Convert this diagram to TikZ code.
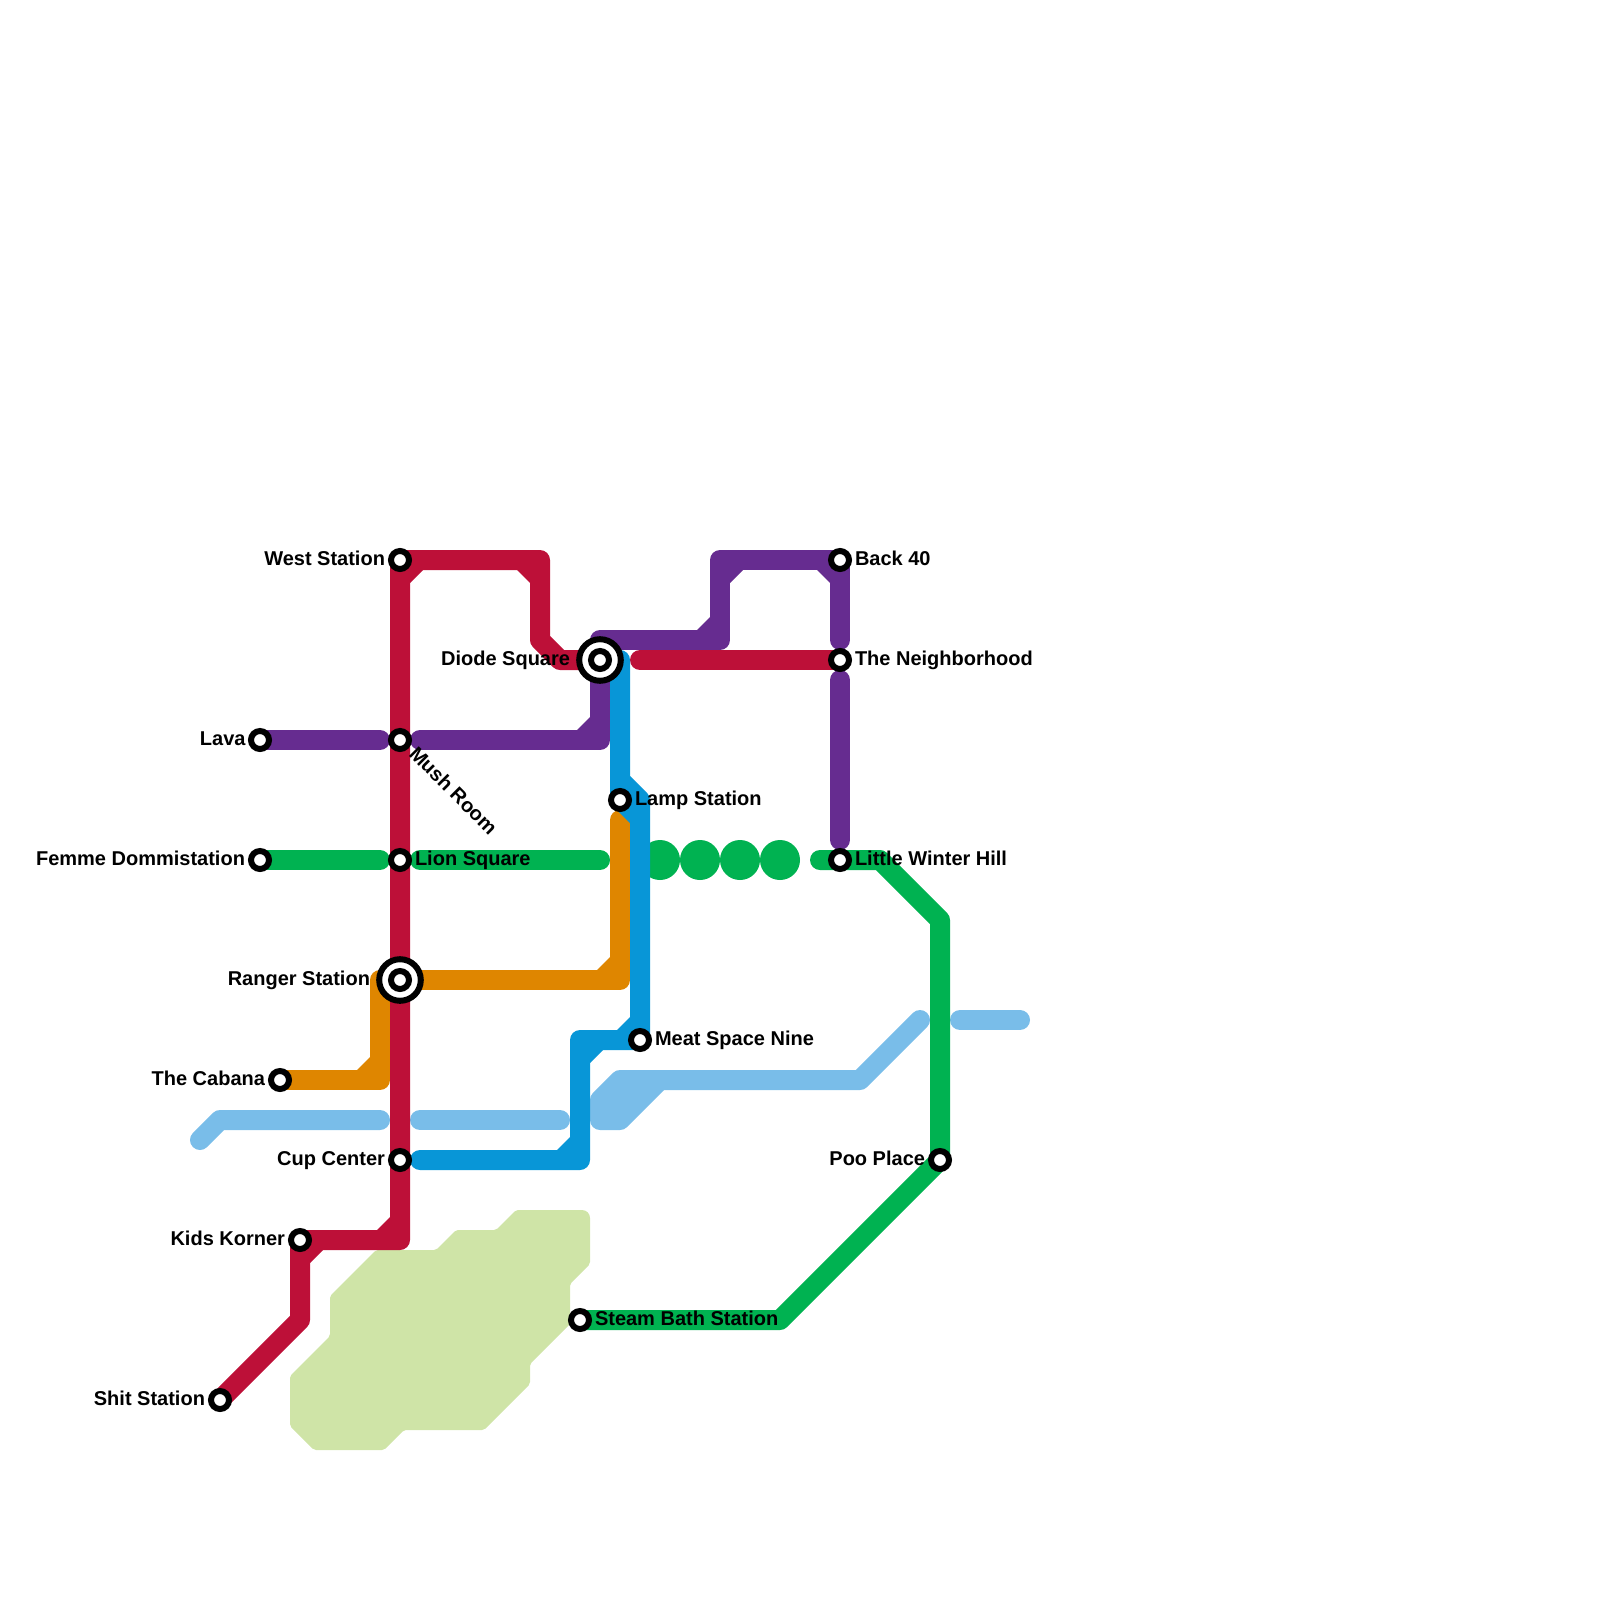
\documentclass[tikz,border=0pt]{standalone}
\usepackage{fontspec}
\setmainfont{Liberation Sans}
\pgfdeclarelayer{lines}
\pgfsetlayers{lines,main}
\definecolor{cred}{HTML}{BD1038}
\definecolor{cpurple}{HTML}{662C90}
\definecolor{cgreen}{HTML}{00B251}
\definecolor{cblue}{HTML}{0896D7}
\definecolor{corange}{HTML}{DF8600}
\definecolor{clight}{HTML}{79BDE9}
\definecolor{cpark}{HTML}{CFE4A7}
\tikzset{
  metro/.style={line width=20pt,line cap=round,line join=round},
  stationdot/.style={circle,draw=black,fill=white,line width=6pt,minimum size=18pt,inner sep=0pt,outer sep=0pt},
  stationring/.style={circle,draw=black,fill=white,line width=6pt,minimum size=41.6pt,inner sep=0pt,outer sep=0pt},
  lab/.style={font=\fontsize{20pt}{24pt}\selectfont\bfseries,inner sep=0pt,outer sep=0pt,text=black},
  lableft/.style={lab,anchor=base east},
  labright/.style={lab,anchor=base west},
  traindot/.style={circle,fill=cgreen,minimum size=40pt,inner sep=0pt,outer sep=0pt},
}
\newcommand{\chamfer}[5]{\fill[#1] (#2,#3) -- ++(#4*13,0) -- ++(-#4*13,#5*13) -- cycle;}
\begin{document}
\begin{tikzpicture}[x=1pt,y=-1pt]
\useasboundingbox (0,0) rectangle (1600,1600);
% waypoints
\foreach \n/\x/\y in {
 ra/540/560,rb/540/640,rc/560/660,rd/400/1240,re/300/1320,rf/640/660,
 pa/380/740,pb/420/740,pc/600/740,pd/600/640,pe/720/640,pf/720/560,pg/840/640,ph/840/680,pi/840/840,
 ga/380/860,gb/420/860,gc/600/860,gd/820/860,ge/880/860,gf/940/920,gg/780/1320,
 oa/620/820,ob/620/980,oc/420/980,od/380/980,oe/380/1080,
 ba/620/660,bb/620/780,bc/640/800,bd/420/1160,be/580/1160,bf/580/1040,
 la/200/1140,lb/220/1120,lc/380/1120,ld/420/1120,le/560/1120,
 lf/600/1100,lg/620/1080,lh/660/1080,li/620/1120,lj/600/1120,lk/860/1080,ll/920/1020,
 lm/960/1020,ln/1020/1020}
 {\coordinate (\n) at (\x,\y);}
% stations
\node[stationdot] (west) at (400,560) {};
\node[stationdot] (lava) at (260,740) {};
\node[stationdot] (mush) at (400,740) {};
\node[stationdot] (femme) at (260,860) {};
\node[stationdot] (lion) at (400,860) {};
\node[stationring] (rangerring) at (400,980) {};
\node[stationdot] (ranger) at (400,980) {};
\node[stationdot] (cabana) at (280,1080) {};
\node[stationdot] (cup) at (400,1160) {};
\node[stationdot] (kids) at (300,1240) {};
\node[stationdot] (shit) at (220,1400) {};
\node[stationring] (dioderring) at (600,660) {};
\node[stationdot] (diode) at (600,660) {};
\node[stationdot] (lamp) at (620,800) {};
\node[stationdot] (meat) at (640,1040) {};
\node[stationdot] (back) at (840,560) {};
\node[stationdot] (hood) at (840,660) {};
\node[stationdot] (winter) at (840,860) {};
\node[stationdot] (poo) at (940,1160) {};
\node[stationdot] (steam) at (580,1320) {};
% labels
\node[lableft] (lwest) at (385,565) {West Station};
\node[lableft] (llava) at (245.5,745) {Lava};
\node[lableft] (lfemme) at (245,865) {Femme Dommistation};
\node[lableft] (lranger) at (370,985) {Ranger Station};
\node[lableft] (lcabana) at (265,1085) {The Cabana};
\node[lableft] (lcup) at (385,1165) {Cup Center};
\node[lableft] (lkids) at (285,1245) {Kids Korner};
\node[lableft] (lshit) at (205,1405) {Shit Station};
\node[lableft] (ldiode) at (570,665) {Diode Square};
\node[lableft] (lpoo) at (925,1165) {Poo Place};
\node[labright] (llion) at (415,865) {Lion Square};
\node[labright] (llamp) at (635,805) {Lamp Station};
\node[labright] (lmeat) at (655,1045) {Meat Space Nine};
\node[labright] (lback) at (855,565) {Back 40};
\node[labright] (lhood) at (855,665) {The Neighborhood};
\node[labright] (lwinter) at (855,865) {Little Winter Hill};
\node[labright] (lsteam) at (595,1325) {Steam Bath Station};
\node[labright,rotate=-45] (lmush) at (408,755) {Mush Room};
\begin{pgfonlayer}{lines}
% park
\fill[cpark,rounded corners=2pt] (516,1210) [rounded corners=8pt] -- (590,1210) [rounded corners=2pt] -- (590,1264) -- (570,1284) -- (570,1324) -- (530,1364) -- (530,1384) -- (484,1430) -- (404,1430) -- (384,1450) -- (314,1450) -- (290,1426) -- (290,1376) -- (330,1336) -- (330,1296) -- (376,1250) -- (436,1250) -- (456,1230) -- (496,1230) -- cycle;
% light blue
\draw[metro,clight] (la) -- (lb) -- (lc);
\draw[metro,clight] (ld) -- (le);
\draw[metro,clight,fill=clight] (lf) -- (lg) -- (lh) -- (li) -- (lj) -- cycle;
\draw[metro,clight] (lh) -- (lk) -- (ll);
\draw[metro,clight] (lm) -- (ln);
% green
\draw[metro,cgreen] (femme.center) -- (ga);
\draw[metro,cgreen] (gb) -- (gc);
\node[traindot] (t1) at (660,860) {};
\node[traindot] (t2) at (700,860) {};
\node[traindot] (t3) at (740,860) {};
\node[traindot] (t4) at (780,860) {};
\draw[metro,cgreen] (gd) -- (ge) -- (gf) -- (poo.center) -- (gg) -- (steam.center);
% orange
\draw[metro,corange] (oa) -- (ob) -- (oc);
\draw[metro,corange] (ranger.center) -- (od) -- (oe) -- (cabana.center);
\chamfer{corange}{610}{970}{-1}{-1}
\chamfer{corange}{370}{1070}{-1}{-1}
% purple
\draw[metro,cpurple] (lava.center) -- (pa);
\draw[metro,cpurple] (pb) -- (pc) -- (pd) -- (pe) -- (pf) -- (back.center) -- (pg);
\draw[metro,cpurple] (ph) -- (pi);
\chamfer{cpurple}{590}{730}{-1}{-1}
\chamfer{cpurple}{710}{630}{-1}{-1}
\chamfer{cpurple}{730}{570}{1}{1}
\chamfer{cpurple}{830}{570}{-1}{1}
% red
\draw[metro,cred] (diode.center) -- (rc) -- (rb) -- (ra) -- (west.center) -- (rd) -- (kids.center) -- (re) -- (shit.center);
\draw[metro,cred] (rf) -- (hood.center);
\chamfer{cred}{410}{570}{1}{1}
\chamfer{cred}{530}{570}{-1}{1}
\chamfer{cred}{390}{1230}{-1}{-1}
\chamfer{cred}{310}{1250}{1}{1}
% blue
\draw[metro,cblue] (ba) -- (bb) -- (bc) -- (meat.center) -- (bf) -- (be) -- (bd);
\fill[cblue] (610,780) -- (610,803) -- (630,823) -- (630,800) -- cycle;
\chamfer{cblue}{570}{1150}{-1}{-1}
\chamfer{cblue}{590}{1050}{1}{1}
\chamfer{cblue}{630}{1030}{-1}{-1}
\end{pgfonlayer}
\end{tikzpicture}
\end{document}
